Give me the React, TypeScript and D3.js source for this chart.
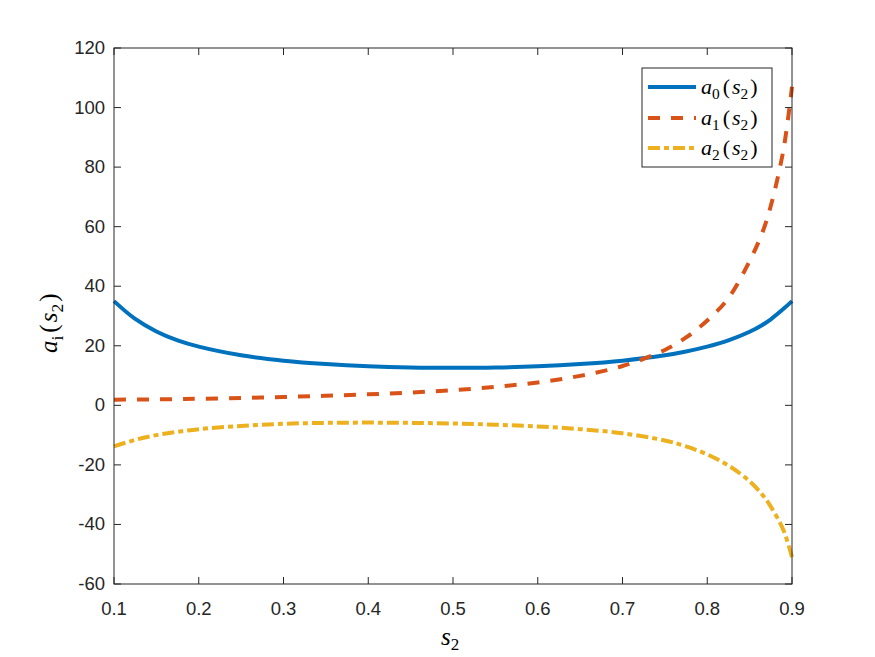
import React, { useEffect, useRef } from "react";
import * as d3 from "d3";

const sValues = [0.1, 0.125, 0.15, 0.175, 0.2, 0.25, 0.3, 0.35, 0.4, 0.45, 0.5, 0.55, 0.6, 0.65, 0.7, 0.75, 0.775, 0.8, 0.825, 0.85, 0.865, 0.875, 0.89, 0.9];
const a0Values = [35, 29.0, 24.8, 21.8, 19.7, 16.8, 15.0, 13.85, 13.1, 12.7, 12.6, 12.7, 13.1, 13.85, 15.0, 16.8, 18.1, 19.7, 21.8, 24.7, 27.0, 28.9, 32.4, 35];
const a1Values = [1.9, 1.95, 2.0, 2.1, 2.2, 2.5, 2.8, 3.2, 3.7, 4.3, 5.1, 6.2, 7.7, 9.9, 13.2, 18.6, 22.8, 28.5, 36, 48.5, 58, 67, 86, 107];
const a2Values = [-13.8, -11.6, -10.0, -8.9, -8.0, -6.9, -6.2, -5.9, -5.8, -5.9, -6.1, -6.5, -7.1, -8.0, -9.4, -11.8, -13.8, -16.5, -20.2, -25.5, -30, -34, -42, -51];

const xTicks = [0.1, 0.2, 0.3, 0.4, 0.5, 0.6, 0.7, 0.8, 0.9];
const yTicks = [-60, -40, -20, 0, 20, 40, 60, 80, 100, 120];

const seriesNames = ["0", "1", "2"];
const seriesColors = ["#0072BD", "#D95319", "#EDB120"];
const seriesDash = [null, "12,11", "12,4,5,4"];

const W = 875;
const H = 657;
const left = 114;
const right = 792;
const top = 48;
const bottom = 584;

const mathFont = "Liberation Serif, serif";

// a_{sub}(s_2) as text with tspans
function mathLabel(sel: any, base: string, sub: string, size: number) {
  sel.attr("font-family", mathFont).attr("font-size", size).attr("fill", "#000");
  sel.append("tspan").attr("font-style", "italic").text(base);
  sel.append("tspan").attr("font-size", size * 0.7).attr("dy", size * 0.22).text(sub);
  sel.append("tspan").attr("dy", -size * 0.22).attr("dx", 3).text("(");
  sel.append("tspan").attr("font-style", "italic").attr("dx", 2).text("s");
  sel.append("tspan").attr("font-size", size * 0.7).attr("dy", size * 0.22).text("2");
  sel.append("tspan").attr("dy", -size * 0.22).attr("dx", 2).text(")");
}

const App = () => {
  const ref = useRef<SVGSVGElement>(null);

  useEffect(() => {
    const svg = d3.select(ref.current);
    svg.selectAll("*").remove();

    const x = d3.scaleLinear().domain([0.1, 0.9]).range([left, right]);
    const y = d3.scaleLinear().domain([-60, 120]).range([bottom, top]);

    svg.append("rect").attr("width", W).attr("height", H).attr("fill", "#fff");

    const series = [a0Values, a1Values, a2Values];
    const line = d3
      .line<number>()
      .x((d, i) => x(sValues[i]))
      .y((d) => y(d))
      .curve(d3.curveCatmullRom.alpha(0.5));

    const plot = svg.append("g");
    series.forEach((vals, k) => {
      const p = plot
        .append("path")
        .attr("d", line(vals))
        .attr("fill", "none")
        .attr("stroke", seriesColors[k])
        .attr("stroke-width", 4);
      if (seriesDash[k]) p.attr("stroke-dasharray", seriesDash[k]);
    });

    // axes box and ticks
    const axisColor = "#262626";
    const tickLen = 7;
    const ax = svg.append("g").attr("stroke", axisColor).attr("stroke-width", 1);
    ax.append("rect")
      .attr("x", left)
      .attr("y", top)
      .attr("width", right - left)
      .attr("height", bottom - top)
      .attr("fill", "none");

    xTicks.forEach((t) => {
      ax.append("line").attr("x1", x(t)).attr("x2", x(t)).attr("y1", bottom).attr("y2", bottom - tickLen);
      ax.append("line").attr("x1", x(t)).attr("x2", x(t)).attr("y1", top).attr("y2", top + tickLen);
    });
    yTicks.forEach((t) => {
      ax.append("line").attr("x1", left).attr("x2", left + tickLen).attr("y1", y(t)).attr("y2", y(t));
      ax.append("line").attr("x1", right).attr("x2", right - tickLen).attr("y1", y(t)).attr("y2", y(t));
    });

    const labels = svg
      .append("g")
      .attr("font-family", "Liberation Sans, Arial, sans-serif")
      .attr("font-size", 18.5)
      .attr("fill", axisColor);

    labels
      .selectAll(".xt")
      .data(xTicks)
      .join("text")
      .attr("x", (d) => x(d))
      .attr("y", 615)
      .attr("text-anchor", "middle")
      .text((d) => d3.format(".1f")(d));

    labels
      .selectAll(".yt")
      .data(yTicks)
      .join("text")
      .attr("x", 105)
      .attr("y", (d) => y(d) + 6)
      .attr("text-anchor", "end")
      .text((d) => String(d));

    // axis titles
    const xl = svg.append("text").attr("x", 441).attr("y", 645);
    xl.attr("font-family", mathFont).attr("font-size", 25);
    xl.append("tspan").attr("font-style", "italic").text("s");
    xl.append("tspan").attr("font-size", 17).attr("dy", 5).text("2");

    const yl = svg.append("text").attr("transform", "translate(57,353) rotate(-90)");
    mathLabel(yl, "a", "i", 25);

    // legend
    const lg = svg.append("g");
    lg.append("rect")
      .attr("x", 642)
      .attr("y", 68)
      .attr("width", 130)
      .attr("height", 99)
      .attr("fill", "#fff")
      .attr("stroke", axisColor)
      .attr("stroke-width", 1);
    const rows = [87, 118, 148];
    seriesNames.forEach((n, k) => {
      const l = lg
        .append("line")
        .attr("x1", 648)
        .attr("x2", 696)
        .attr("y1", rows[k])
        .attr("y2", rows[k])
        .attr("stroke", seriesColors[k])
        .attr("stroke-width", 4);
      if (seriesDash[k]) l.attr("stroke-dasharray", seriesDash[k]);
      const t = lg.append("text").attr("x", 701).attr("y", rows[k] + 7);
      mathLabel(t, "a", n, 22);
    });
  }, []);

  return (
    <svg
      ref={ref}
      width={W}
      height={H}
      style={{ position: "absolute", left: 0, top: 0, display: "block" }}
    ></svg>
  );
};

export default App;
